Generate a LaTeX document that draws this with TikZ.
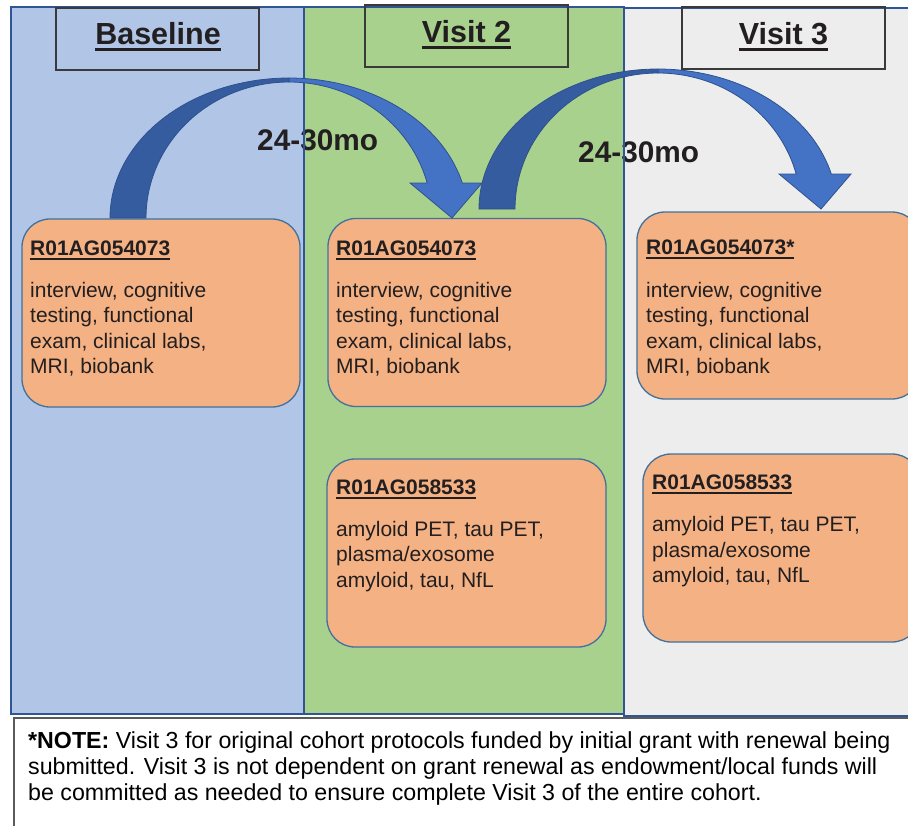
\documentclass[tikz,border=0pt]{standalone}
\usepackage{fontspec}
\setmainfont{Liberation Sans}
\definecolor{bluefill}{HTML}{B1C5E6}
\definecolor{greenfill}{HTML}{A9D18E}
\definecolor{grayfill}{HTML}{EDEDED}
\definecolor{panelborder}{HTML}{2F5597}
\definecolor{hdrborder}{HTML}{3A3A3A}
\definecolor{orangefill}{HTML}{F4B183}
\definecolor{oborder}{HTML}{41719C}
\definecolor{arrlight}{HTML}{4472C4}
\definecolor{arrdark}{HTML}{355C9E}
\definecolor{arrborder}{HTML}{2F528F}
\definecolor{txt}{HTML}{231F20}
\definecolor{noteborder}{HTML}{5A5A5A}
\newcommand{\hul}[1]{\setbox0\hbox{#1}\rlap{\rule[-6.5pt]{\wd0}{3pt}}\box0}
\newcommand{\tul}[1]{\setbox0\hbox{#1}\rlap{\rule[-5pt]{\wd0}{2.4pt}}\box0}
\begin{document}
\begin{tikzpicture}[x=1pt,y=-1pt,
  panel/.style={draw=panelborder,line width=1.6pt},
  hdrbox/.style={draw=hdrborder,line width=1.1pt,minimum width=203pt,minimum height=62pt,inner sep=0pt},
  hdrtext/.style={font=\fontsize{30.5}{36}\selectfont\bfseries,text=txt,inner sep=0pt,anchor=base},
  lbl/.style={font=\fontsize{29.8}{36}\selectfont\bfseries,text=txt,inner sep=0pt,anchor=base west},
  obox/.style={draw=oborder,fill=orangefill,line width=1.3pt,rounded corners=28pt,inner sep=0pt},
  btxt/.style={font=\fontsize{21}{25.5}\selectfont,text=txt,inner sep=0pt,anchor=base west},
  notetxt/.style={font=\fontsize{23.2}{26}\selectfont,text=black,inner sep=0pt,anchor=base west},
  curvarrow/.pic={
    \filldraw[fill=arrlight,draw=arrborder,line width=0.8pt]
      plot[domain=90:14.48,samples=40] ({179*cos(\x)},{-140*sin(\x)})
      -- (193,-35) -- (163,0) -- (121,-35)
      -- plot[domain=14.9:90,samples=40] ({143*cos(\x)},{-136*sin(\x)}) -- cycle;
    \filldraw[fill=arrdark,draw=arrborder,line width=0.8pt]
      plot[domain=180:90,samples=40] ({179*cos(\x)},{-140*sin(\x)})
      -- plot[domain=90:180,samples=40] ({143*cos(\x)},{-136*sin(\x)}) -- cycle;
  }
]
\useasboundingbox (0,0) rectangle (908,825);
\fill[white] (0,0) rectangle (908,825);
% panel fills
\fill[bluefill] (11,7) rectangle (304,714);
\fill[greenfill] (304,7) rectangle (624,714);
\fill[grayfill] (624,8) rectangle (915,716);
% interval labels
\node[lbl] (m1) at (257,150) {24-30mo};
\node[lbl] (m2) at (578,162) {24-30mo};
% panel borders
\draw[panel] (304,7) -- (11,7) -- (11,714) -- (304,714);
\draw[panel] (304,7) rectangle (624,714);
\draw[panel] (915,8) -- (624,8) -- (624,716) -- (915,716);
% headers
\node[hdrbox] (hb) at (157.5,39) {};
\node[hdrbox] (hv2) at (466.5,36) {};
\node[hdrbox] (hv3) at (783.5,38) {};
\node[hdrtext] (hbt) at (158,44) {\hul{Baseline}};
\node[hdrtext] (hv2t) at (466.5,42) {\hul{Visit 2}};
\node[hdrtext] (hv3t) at (783.5,44) {\hul{Visit 3}};
% orange boxes
\node[obox,minimum width=278pt,minimum height=188pt] (b1) at (161,313) {};
\node[obox,minimum width=278pt,minimum height=188pt] (v2a) at (467,312.5) {};
\node[obox,minimum width=279pt,minimum height=188pt] (v2b) at (466.5,553) {};
\node[obox,minimum width=283pt,minimum height=187pt] (v3a) at (778.5,305.5) {};
\node[obox,minimum width=277pt,minimum height=188pt] (v3b) at (781.5,548) {};
% box texts
\node[btxt] (b1t) at (30,255) {\vtop{\hbox{\bfseries\tul{R01AG054073}}\vskip16.5pt
  \hbox{interview, cognitive}\hbox{testing, functional}\hbox{exam, clinical labs,}\hbox{MRI, biobank}}};
\node[btxt] (v2at) at (336,255) {\vtop{\hbox{\bfseries\tul{R01AG054073}}\vskip16.5pt
  \hbox{interview, cognitive}\hbox{testing, functional}\hbox{exam, clinical labs,}\hbox{MRI, biobank}}};
\node[btxt] (v3at) at (646,254) {\vtop{\hbox{\bfseries\tul{R01AG054073*}}\vskip17.5pt
  \hbox{interview, cognitive}\hbox{testing, functional}\hbox{exam, clinical labs,}\hbox{MRI, biobank}}};
\node[btxt] (v2bt) at (336,494) {\vtop{\hbox{\bfseries\tul{R01AG058533}}\vskip16.5pt
  \hbox{amyloid PET, tau PET,}\hbox{plasma/exosome}\hbox{amyloid, tau, NfL}}};
\node[btxt] (v3bt) at (652,489) {\vtop{\hbox{\bfseries\tul{R01AG058533}}\vskip17pt
  \hbox{amyloid PET, tau PET,}\hbox{plasma/exosome}\hbox{amyloid, tau, NfL}}};
% curved arrows
\coordinate (c1) at (289,218);
\coordinate (c2) at (658,209);
\pic at (c1) {curvarrow};
\pic at (c2) {curvarrow};
% note
\draw[draw=noteborder,fill=white,line width=1.2pt] (915,718) -- (14,718) -- (14,830);
\node[notetxt] (note) at (28,748) {\vtop{%
  \hbox{\textbf{*NOTE:} Visit 3 for original cohort protocols funded by initial grant with renewal being}
  \hbox{submitted. Visit 3 is not dependent on grant renewal as endowment/local funds will}
  \hbox{be committed as needed to ensure complete Visit 3 of the entire cohort.}}};
\end{tikzpicture}
\end{document}
